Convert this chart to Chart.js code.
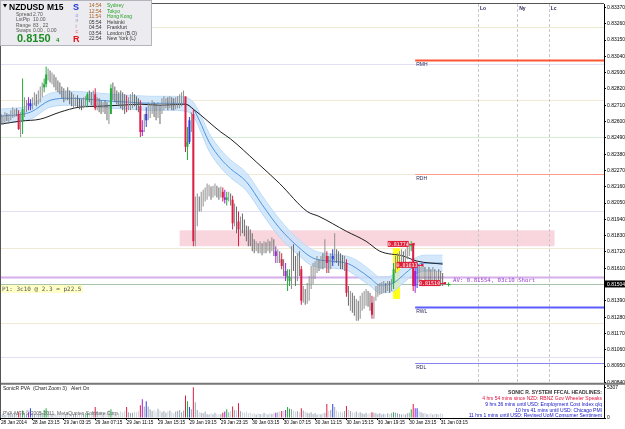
<!DOCTYPE html>
<html>
<head>
<meta charset="utf-8">
<script src="https://cdn.jsdelivr.net/npm/chart.js@4.4.1/dist/chart.umd.min.js"></script>
<style>
html, body { margin: 0; padding: 0; background: #fff; overflow: hidden; }
canvas { display: block; }
</style>
</head>
<body>
<canvas id="nzdChart" width="625" height="429"></canvas>
<script>
// =============== NZDUSD M15, first bar = 28 Jan 19:15
const firstOpen = 0.82630;
const highs = [
0.82650,0.82643,0.82663,0.82656,0.82650,0.82676,0.82697,0.82683,0.82690,0.82676,
0.82663,0.82891,0.82764,0.82743,0.82764,0.82750,0.82764,0.82797,0.82784,0.82810,
0.82837,0.82864,0.82891,0.82971,0.82958,0.82944,0.82931,0.82918,0.82898,0.82877,
0.82864,0.82837,0.82824,0.82810,0.82831,0.82810,0.82797,0.82784,0.82764,0.82777,
0.82757,0.82750,0.82764,0.82770,0.82797,0.82810,0.82797,0.82810,0.82824,0.82764,
0.82757,0.82743,0.82730,0.82743,0.82730,0.82697,0.82851,0.82864,0.82837,0.82810,
0.82797,0.82810,0.82797,0.82784,0.82777,0.82764,0.82784,0.82797,0.82784,0.82770,
0.82757,0.82743,0.82609,0.82650,0.82697,0.82730,0.82717,0.82743,0.82730,0.82717,
0.82730,0.82703,0.82757,0.82770,0.82757,0.82764,0.82770,0.82764,0.82757,0.82764,
0.82770,0.82784,0.82797,0.82810,0.82764,0.82563,0.82630,0.82663,0.82683,0.82094,
0.82114,0.82094,0.82127,0.82140,0.82154,0.82181,0.82174,0.82161,0.82167,0.82181,
0.82167,0.82154,0.82161,0.82154,0.82140,0.82127,0.82127,0.82114,0.82100,0.82047,
0.82027,0.81993,0.81960,0.81980,0.81939,0.81899,0.81893,0.81872,0.81846,0.81805,
0.81792,0.81779,0.81792,0.81779,0.81792,0.81785,0.81805,0.81792,0.81819,0.81805,
0.81759,0.81738,0.81725,0.81712,0.81671,0.81645,0.81604,0.81604,0.81759,0.81772,
0.81692,0.81712,0.81725,0.81625,0.81491,0.81470,0.81511,0.81558,0.81625,0.81645,
0.81658,0.81692,0.81671,0.81692,0.81712,0.81805,0.81725,0.81692,0.81712,0.81738,
0.81846,0.81738,0.81725,0.81712,0.81698,0.81692,0.81671,0.81491,0.81457,0.81444,
0.81424,0.81403,0.81390,0.81424,0.81444,0.81457,0.81470,0.81457,0.81444,0.81424,
0.81417,0.81491,0.81504,0.81511,0.81517,0.81524,0.81511,0.81524,0.81524,0.81537,
0.81645,0.81692,0.81712,0.81725,0.81738,0.81725,0.81738,0.81765,0.81779,0.81792,
0.81772,0.81645,0.81645,0.81625,0.81618,0.81625,0.81618,0.81604,0.81618,0.81604,
0.81618,0.81604,0.81591,0.81604,0.81591,0.81578
];
const lows = [
0.82583,0.82576,0.82596,0.82603,0.82583,0.82609,0.82623,0.82630,0.82636,0.82542,
0.82496,0.82516,0.82630,0.82663,0.82676,0.82676,0.82683,0.82710,0.82703,0.82717,
0.82730,0.82764,0.82797,0.82831,0.82877,0.82864,0.82851,0.82831,0.82810,0.82797,
0.82784,0.82757,0.82730,0.82743,0.82743,0.82717,0.82703,0.82690,0.82703,0.82697,
0.82683,0.82676,0.82690,0.82697,0.82697,0.82730,0.82710,0.82703,0.82676,0.82676,
0.82663,0.82650,0.82663,0.82650,0.82609,0.82583,0.82717,0.82743,0.82730,0.82717,
0.82703,0.82690,0.82676,0.82650,0.82663,0.82676,0.82676,0.82690,0.82703,0.82676,
0.82663,0.82496,0.82502,0.82529,0.82563,0.82609,0.82623,0.82650,0.82630,0.82609,
0.82623,0.82583,0.82650,0.82676,0.82690,0.82676,0.82690,0.82676,0.82676,0.82683,
0.82690,0.82690,0.82703,0.82717,0.82395,0.82341,0.82449,0.82529,0.81759,0.81759,
0.81893,0.81993,0.81993,0.82027,0.82060,0.82073,0.82094,0.82073,0.82087,0.82100,
0.82087,0.82073,0.82087,0.82060,0.82047,0.82033,0.82060,0.82033,0.81872,0.81893,
0.81846,0.81759,0.81826,0.81846,0.81826,0.81792,0.81759,0.81759,0.81725,0.81712,
0.81725,0.81712,0.81712,0.81698,0.81712,0.81712,0.81725,0.81712,0.81725,0.81692,
0.81645,0.81645,0.81645,0.81604,0.81558,0.81524,0.81457,0.81491,0.81470,0.81591,
0.81491,0.81524,0.81558,0.81363,0.81377,0.81363,0.81370,0.81390,0.81470,0.81504,
0.81537,0.81578,0.81591,0.81604,0.81604,0.81611,0.81578,0.81578,0.81604,0.81625,
0.81645,0.81645,0.81625,0.81604,0.81604,0.81591,0.81417,0.81357,0.81323,0.81310,
0.81290,0.81256,0.81256,0.81269,0.81323,0.81336,0.81357,0.81350,0.81323,0.81269,
0.81269,0.81390,0.81417,0.81430,0.81437,0.81444,0.81444,0.81457,0.81444,0.81457,
0.81470,0.81578,0.81604,0.81618,0.81645,0.81631,0.81645,0.81671,0.81692,0.81725,
0.81457,0.81444,0.81477,0.81511,0.81524,0.81537,0.81524,0.81511,0.81524,0.81511,
0.81524,0.81511,0.81497,0.81511,0.81491,0.81491
];
const closes = [
0.82609,0.82623,0.82636,0.82616,0.82630,0.82650,0.82663,0.82663,0.82650,0.82549,
0.82609,0.82683,0.82697,0.82710,0.82723,0.82703,0.82730,0.82757,0.82730,0.82764,
0.82797,0.82831,0.82851,0.82918,0.82931,0.82898,0.82904,0.82864,0.82851,0.82831,
0.82824,0.82797,0.82777,0.82784,0.82764,0.82743,0.82730,0.82730,0.82730,0.82723,
0.82710,0.82703,0.82730,0.82743,0.82784,0.82764,0.82730,0.82784,0.82690,0.82717,
0.82703,0.82676,0.82703,0.82690,0.82650,0.82650,0.82824,0.82797,0.82764,0.82757,
0.82750,0.82730,0.82703,0.82676,0.82676,0.82730,0.82743,0.82757,0.82730,0.82717,
0.82703,0.82529,0.82542,0.82609,0.82650,0.82676,0.82690,0.82703,0.82663,0.82650,
0.82676,0.82663,0.82730,0.82730,0.82730,0.82717,0.82743,0.82730,0.82717,0.82723,
0.82730,0.82743,0.82757,0.82770,0.82429,0.82462,0.82609,0.82650,0.81792,0.82060,
0.82060,0.82027,0.82073,0.82094,0.82114,0.82127,0.82140,0.82127,0.82140,0.82154,
0.82127,0.82114,0.82127,0.82087,0.82073,0.82087,0.82087,0.82073,0.81913,0.81993,
0.81926,0.81872,0.81913,0.81893,0.81872,0.81846,0.81826,0.81805,0.81759,0.81738,
0.81759,0.81738,0.81752,0.81738,0.81759,0.81752,0.81765,0.81752,0.81765,0.81725,
0.81692,0.81692,0.81671,0.81625,0.81591,0.81558,0.81551,0.81524,0.81685,0.81671,
0.81625,0.81645,0.81604,0.81390,0.81424,0.81403,0.81457,0.81491,0.81578,0.81591,
0.81625,0.81645,0.81631,0.81658,0.81645,0.81692,0.81645,0.81604,0.81671,0.81692,
0.81725,0.81685,0.81671,0.81658,0.81645,0.81645,0.81444,0.81390,0.81390,0.81357,
0.81323,0.81336,0.81310,0.81357,0.81390,0.81403,0.81424,0.81390,0.81377,0.81296,
0.81390,0.81457,0.81470,0.81484,0.81484,0.81491,0.81484,0.81497,0.81491,0.81511,
0.81604,0.81658,0.81671,0.81692,0.81712,0.81692,0.81725,0.81738,0.81759,0.81772,
0.81491,0.81591,0.81591,0.81578,0.81578,0.81591,0.81564,0.81578,0.81564,0.81551,
0.81578,0.81537,0.81551,0.81537,0.81524,0.81511
];
const volumes = [
600,750,500,650,800,700,550,900,650,1000,
800,1300,900,700,1000,1700,800,650,900,750,
1000,850,1400,1700,1100,900,700,800,650,900,
750,600,850,700,950,800,650,700,900,600,
750,800,650,850,900,700,850,1000,1900,1200,
900,1100,800,950,1000,1300,1500,1100,900,1000,
800,1150,950,1200,1900,1000,850,900,1100,1000,
1200,2200,3250,2000,2900,2000,1500,1200,1400,1100,
1600,1300,1000,1200,900,1100,1300,1000,800,1100,
1200,1400,1000,1300,3900,2900,1900,1500,5307,2700,
1400,1000,900,800,1100,700,600,800,650,900,
750,600,700,900,1100,1500,1000,1200,2000,1400,
1300,2550,1200,1000,900,1100,800,950,700,850,
600,800,700,650,900,750,600,800,700,900,
900,1000,1100,1200,1300,1400,1900,1600,1500,1300,
1100,1200,1000,1700,1300,1100,900,800,1000,700,
850,600,750,650,800,900,2400,1200,1400,2400,
1900,1300,1000,1100,900,1200,2050,1400,1200,1000,
900,1100,850,1000,800,700,900,750,850,1000,
900,800,700,850,600,750,650,800,700,850,
1000,900,800,700,650,750,600,800,900,1500,
2400,1700,1700,1200,1000,800,900,700,650,800,
600,750,700,650,800,700
];

// PVA bars: r = climax bear, g = climax bull, b = rising bull, m = rising bear
const pvaIndex = [9,11,14,15,22,23,44,48,56,64,71,72,74,94,95,96,98,113,114,115,118,121,140,143,145,146,147,153,166,169,176,189,200,209,210,211,212];
const pvaKind  = ['r','g','m','b','g','g','g','r','g','r','r','m','b','r','g','b','r','r','m','g','r','r','m','r','m','g','g','r','r','b','r','r','g','g','r','m','b'];

// long moving average (sparse points, bar index / price)
const maBars   = [0,10,20,30,40,50,61,71,81,94,98,112,117,130,142,156,162,176,186,193,205,212,225];
const maValues = [0.82583,0.82603,0.82616,0.82663,0.82697,0.82703,0.82710,0.82717,0.82710,0.82717,0.82683,0.82529,0.82482,0.82328,0.82181,0.81993,0.81960,0.81859,0.81792,0.81725,0.81692,0.81658,0.81638];

// SonicR dragon band
const bandBars  = [0,15,25,35,45,56,66,76,86,94,98,101,106,112,117,125,133,142,151,159,168,176,181,188,193,200,205,210,216,225];
const bandMid   = [0.82636,0.82663,0.82743,0.82757,0.82750,0.82737,0.82730,0.82723,0.82723,0.82717,0.82683,0.82609,0.82462,0.82348,0.82281,0.82194,0.82040,0.81879,0.81759,0.81678,0.81658,0.81645,0.81611,0.81544,0.81497,0.81511,0.81564,0.81618,0.81645,0.81645];
const bandHigh  = [0.82683,0.82710,0.82790,0.82804,0.82797,0.82784,0.82777,0.82770,0.82770,0.82764,0.82730,0.82663,0.82522,0.82408,0.82341,0.82254,0.82100,0.81939,0.81812,0.81732,0.81705,0.81692,0.81665,0.81598,0.81551,0.81564,0.81618,0.81671,0.81698,0.81698];
const bandLow   = [0.82589,0.82616,0.82697,0.82710,0.82703,0.82690,0.82683,0.82676,0.82676,0.82670,0.82636,0.82556,0.82402,0.82288,0.82221,0.82134,0.81980,0.81819,0.81705,0.81625,0.81611,0.81598,0.81558,0.81491,0.81444,0.81457,0.81511,0.81564,0.81591,0.81591];

// axis labels
const timeLabels = ['28 Jan 2014','28 Jan 23:15','29 Jan 03:15','29 Jan 07:15','29 Jan 11:15','29 Jan 15:15','29 Jan 19:15','29 Jan 23:15','30 Jan 03:15','30 Jan 07:15','30 Jan 11:15','30 Jan 15:15','30 Jan 19:15','30 Jan 23:15','31 Jan 03:15'];
const priceTicks = [0.80840,0.80950,0.81060,0.81170,0.81280,0.81390,0.81500,0.81610,0.81720,0.81830,0.81940,0.82050,0.82160,0.82270,0.82380,0.82490,0.82600,0.82710,0.82820,0.82930,0.83040,0.83150,0.83260,0.83370];
const volumeTicks = [0, 5307];

// levels and objects on the chart
const pivotLevels = [0.83239,0.82991,0.82743,0.82496,0.82248,0.81993,0.81745,0.81243,0.81008];
const rangeNames  = ['RMH','RDH','RWL','RDL'];
const rangePrices = [0.83018,0.82248,0.81350,0.80968];
const rangeFromBar = 211;
const zonePrices = [0.81866, 0.81759];
const zoneBars = [91, 282];
const signalBars = [199.7, 203.3];
const signalPrices = [0.81745, 0.81403];
const sessionNames = ['Lo','Ny','Lc'];
const sessionBars = [243, 263, 279];
const tradePrices = [0.81774, 0.81633, 0.81510];
const tradeBars = [210, 214.5, 226];
const tradeAverage = 0.81554;
const lastPrice = 0.81504;

const clockTimes = ['14:54','12:54','11:54','05:54','04:54','03:54','22:54'];
const clockCities = ['Sydney','Tokyo','Hong Kong','Helsinki','Frankfurt','London (B,O)','New York (L)'];
const headlines = [
    '4 hrs 54 mins since NZD: RBNZ Gov Wheeler Speaks',
    '9 hrs 36 mins until USD: Employment Cost Index q/q',
    '10 hrs 41 mins until USD: Chicago PMI',
    '11 hrs 1 mins until USD: Revised UoM Consumer Sentiment'
];

// =============== colours
const pvaColors = { r: '#dc1e46', g: '#1fae3a', b: '#2b3fe0', m: '#a21fd6' };
const kindAt = highs.map(() => null);
pvaIndex.forEach((idx, k) => { kindAt[idx] = pvaKind[k]; });
const opens = closes.map((c, i) => i === 0 ? firstOpen : closes[i - 1]);
const candleColor = i => kindAt[i] ? pvaColors[kindAt[i]] : (closes[i] >= opens[i] ? '#8e8e8e' : '#686868');
const volumeColor = i => kindAt[i] ? pvaColors[kindAt[i]] : (closes[i] >= opens[i] ? '#9aa6b6' : '#cdd2d8');

const SANS = '"Liberation Sans", Arial, sans-serif';
const MONO = '"DejaVu Sans Mono", monospace';

// =============== overlay drawing (objects, texts, panels)
const overlay = {
    id: 'overlay',
    beforeDatasetsDraw(chart) {
        const { ctx, chartArea: a, scales: { x, y } } = chart;
        const px = v => x.getPixelForValue(v);
        const py = v => Math.round(y.getPixelForValue(v)) + 0.5;
        ctx.save();
        ctx.beginPath();
        ctx.rect(a.left, a.top, a.right - a.left, y.bottom - a.top);
        ctx.clip();

        // pivot levels
        const levelColors = ['#ecebd2', '#e2e0f4', '#efe9d6', '#d6edd6', '#efe9d6', '#e2e0f4', '#efe9d6', '#efe9d6', '#e2e0f4'];
        ctx.lineWidth = 1;
        pivotLevels.forEach((p, k) => {
            ctx.strokeStyle = levelColors[k];
            ctx.beginPath(); ctx.moveTo(a.left, py(p)); ctx.lineTo(a.right, py(p)); ctx.stroke();
        });

        // pink zone
        ctx.fillStyle = '#f9d5de';
        const zt = y.getPixelForValue(zonePrices[0]), zb = y.getPixelForValue(zonePrices[1]);
        ctx.fillRect(px(zoneBars[0]), zt, px(zoneBars[1]) - px(zoneBars[0]), zb - zt);

        // session lines
        ctx.strokeStyle = '#c8c8c8';
        ctx.setLineDash([3, 2]);
        sessionBars.forEach(b => {
            const xx = Math.round(px(b)) + 0.5;
            ctx.beginPath(); ctx.moveTo(xx, a.top); ctx.lineTo(xx, y.bottom); ctx.stroke();
        });
        ctx.setLineDash([]);

        // range levels
        const rangeStyles = [['#ff5533', 2], ['#ff9a88', 1], ['#5c5cff', 2], ['#8484f2', 1]];
        rangePrices.forEach((p, k) => {
            ctx.strokeStyle = rangeStyles[k][0];
            ctx.lineWidth = rangeStyles[k][1];
            ctx.beginPath(); ctx.moveTo(px(rangeFromBar), py(p)); ctx.lineTo(a.right, py(p)); ctx.stroke();
        });

        // trade average line and last price line
        ctx.strokeStyle = '#d6aeea'; ctx.lineWidth = 2;
        ctx.beginPath(); ctx.moveTo(a.left, py(tradeAverage)); ctx.lineTo(a.right, py(tradeAverage)); ctx.stroke();
        ctx.strokeStyle = '#a6c2a6'; ctx.lineWidth = 1;
        ctx.beginPath(); ctx.moveTo(a.left, py(lastPrice)); ctx.lineTo(a.right, py(lastPrice)); ctx.stroke();

        // signal highlight
        ctx.fillStyle = '#ffff1a';
        const st = y.getPixelForValue(signalPrices[0]), sb = y.getPixelForValue(signalPrices[1]);
        ctx.fillRect(px(signalBars[0]), st, px(signalBars[1]) - px(signalBars[0]), sb - st);
        ctx.restore();
    },
    afterDatasetsDraw(chart) {
        const { ctx, chartArea: a, scales: { x, y, yv } } = chart;
        const px = v => x.getPixelForValue(v);
        const py = v => y.getPixelForValue(v);
        ctx.save();
        ctx.textBaseline = 'alphabetic';

        // trade labels
        ctx.font = `5px ${MONO}`;
        tradePrices.forEach((p, k) => {
            const xr = px(tradeBars[k]) - 4.5, yy = py(p);
            ctx.strokeStyle = '#e0203a'; ctx.lineWidth = 1;
            ctx.beginPath(); ctx.moveTo(xr, Math.round(yy) + 0.5); ctx.lineTo(px(tradeBars[k]), Math.round(yy) + 0.5); ctx.stroke();
            ctx.fillStyle = '#e0203a';
            ctx.fillRect(xr - 21, yy - 3, 21, 6);
            ctx.fillRect(px(tradeBars[k]) - 1, yy - 1, 2.5, 2.5);
            ctx.fillStyle = '#fff';
            ctx.textAlign = 'center';
            ctx.fillText(p.toFixed(5), xr - 10.5, yy + 2);
        });
        const lastX = px(tradeBars[2]);
        ctx.strokeStyle = '#1fae3a';
        ctx.beginPath();
        ctx.moveTo(lastX + 2, py(lastPrice) + 0.5); ctx.lineTo(lastX + 6, py(lastPrice) + 0.5);
        ctx.moveTo(lastX + 4, py(lastPrice) - 1.5); ctx.lineTo(lastX + 4, py(lastPrice) + 2.5);
        ctx.stroke();
        ctx.textAlign = 'left';
        ctx.fillStyle = '#9a3fd0';
        ctx.font = `5.7px ${MONO}`;
        ctx.fillText('AV: ' + tradeAverage.toFixed(5) + ', 03c10 Short', lastX + 8.5, py(tradeAverage) + 5);

        // P1 label
        ctx.fillStyle = '#ffffc6';
        ctx.fillRect(a.left, py(lastPrice) + 1, 83, 8);
        ctx.fillStyle = '#555';
        ctx.font = `6px ${MONO}`;
        ctx.fillText('P1: 3c10 @ 2.3 = p22.5', a.left + 2, py(lastPrice) + 7);

        // session names and range names
        ctx.font = `bold 5px ${SANS}`;
        ctx.fillStyle = '#2a2a5a';
        sessionNames.forEach((n, k) => ctx.fillText(n, px(sessionBars[k]) + 2, a.top + 6));
        ctx.font = `5px ${SANS}`;
        rangeNames.forEach((n, k) => ctx.fillText(n, px(rangeFromBar) + 1, py(rangePrices[k]) + 6));

        // panel borders and separator
        ctx.fillStyle = '#777';
        ctx.fillRect(0, y.bottom - 0.5, chart.width, 2);
        ctx.strokeStyle = '#555'; ctx.lineWidth = 1;
        ctx.beginPath();
        ctx.moveTo(0.5, a.top); ctx.lineTo(0.5, a.bottom);
        ctx.moveTo(0, a.top - 0.5); ctx.lineTo(a.right, a.top - 0.5);
        ctx.stroke();

        // info panel
        ctx.fillStyle = '#ececf0';
        ctx.fillRect(0, 0, 152, 46);
        ctx.strokeStyle = '#b4b4bc';
        ctx.strokeRect(0.5, 0.5, 151, 45);
        ctx.fillStyle = '#000';
        ctx.beginPath(); ctx.moveTo(3, 4); ctx.lineTo(7, 4); ctx.lineTo(5, 7.5); ctx.closePath(); ctx.fill();
        ctx.font = `bold 8.5px ${SANS}`;
        ctx.fillText('NZDUSD', 9, 10);
        ctx.fillText('M15', 47, 10);
        ctx.font = `5px ${SANS}`;
        ctx.fillStyle = '#555';
        [['Spread', '2.70'], ['LstPip', '10.00'], ['Range', '83 , 22'], ['Swaps', '0.00 , 0.00']].forEach((r, k) => {
            ctx.fillText(r[0], 16, 16 + k * 5.3);
            ctx.fillText(r[1], 33, 16 + k * 5.3);
        });
        ctx.fillStyle = '#1c8c22';
        ctx.font = `bold 11px ${SANS}`;
        ctx.fillText('0.8150', 17, 42);
        ctx.font = `bold 6px ${SANS}`;
        ctx.fillText('4', 56, 42);
        ctx.font = `bold 9px ${SANS}`;
        ctx.fillStyle = '#1a34d6';
        ctx.fillText('S', 73, 10);
        ctx.fillStyle = '#e0101e';
        ctx.fillText('R', 73, 42);
        ctx.font = `5px ${SANS}`;
        [['o', '#8894e4'], ['n', '#a486c8'], ['i', '#d276a6'], ['c', '#e06072']].forEach((c, k) => {
            ctx.fillStyle = c[1];
            ctx.fillText(c[0], 75.5, 17 + k * 5.3);
        });
        clockTimes.forEach((t, k) => {
            ctx.fillStyle = k < 3 ? '#a85c1c' : '#333';
            ctx.fillText(t, 89, 7 + k * 5.5);
            ctx.fillStyle = k < 3 ? '#1e9e1e' : '#333';
            ctx.fillText(clockCities[k], 107, 7 + k * 5.5);
        });

        // volume panel texts
        ctx.fillStyle = '#222';
        ctx.font = `5px ${SANS}`;
        ctx.fillText('SonicR PVA  (Chart Zoom 3)   Alert On', 3, yv.top + 7);
        ctx.fillStyle = '#666';
        ctx.fillText('PVA-MT4 \u00a9 2005-2011, MetaQuotes Software Corp.', 3, yv.bottom - 3);
        ctx.textAlign = 'right';
        ctx.font = `bold 5px ${SANS}`;
        ctx.fillStyle = '#333';
        ctx.fillText('SONIC R. SYSTEM FFCAL HEADLINES:', a.right - 2, yv.top + 11);
        ctx.font = `5px ${SANS}`;
        headlines.forEach((h, k) => {
            ctx.fillStyle = k === 0 ? '#e0103a' : '#1414c4';
            ctx.fillText(h, a.right - 2, yv.top + 17 + k * 5.7);
        });
        ctx.restore();
    },
    afterDraw(chart) {
        const { ctx, chartArea: a, scales: { y } } = chart;
        const yy = y.getPixelForValue(lastPrice);
        ctx.save();
        ctx.fillStyle = '#000';
        ctx.fillRect(a.right + 1, yy - 3.5, chart.width - a.right - 1, 7);
        ctx.fillStyle = '#fff';
        ctx.font = `5px ${SANS}`;
        ctx.textAlign = 'left';
        ctx.fillText(lastPrice.toFixed(5), a.right + 3, yy + 2);
        ctx.restore();
    }
};

// =============== chart
const tickFont = { family: 'Liberation Sans', size: 5 };
const timeFont = { family: 'Liberation Sans', size: 4.7 };

new Chart(document.getElementById('nzdChart'), {
    type: 'bar',
    data: {
        datasets: [
            {
                // PVA coloured bodies only
                label: 'body',
                data: closes.map((c, i) => ({ x: i, y: kindAt[i] ? [opens[i], c] : null })),
                backgroundColor: closes.map((c, i) => candleColor(i)),
                barThickness: 2, inflateAmount: 0, grouped: false, yAxisID: 'y', order: 1
            },
            {
                label: 'range',
                data: highs.map((h, i) => ({ x: i, y: [lows[i], h] })),
                backgroundColor: highs.map((h, i) => candleColor(i)),
                barThickness: 1, inflateAmount: 0, grouped: false, yAxisID: 'y', order: 2
            },
            {
                label: 'volume',
                data: volumes.map((v, i) => ({ x: i, y: v })),
                backgroundColor: volumes.map((v, i) => volumeColor(i)),
                barThickness: 1, inflateAmount: 0, grouped: false, yAxisID: 'yv', order: 3
            },
            {
                type: 'line', label: 'ma',
                data: maBars.map((b, k) => ({ x: b, y: maValues[k] })),
                borderColor: '#1e1e1e', borderWidth: 1, pointRadius: 0,
                cubicInterpolationMode: 'monotone', yAxisID: 'y', order: 4
            },
            {
                type: 'line', label: 'band mid',
                data: bandBars.map((b, k) => ({ x: b, y: bandMid[k] })),
                borderColor: '#4f95e0', borderWidth: 1, pointRadius: 0,
                cubicInterpolationMode: 'monotone', yAxisID: 'y', order: 5
            },
            {
                type: 'line', label: 'band high',
                data: bandBars.map((b, k) => ({ x: b, y: bandHigh[k] })),
                borderColor: '#b8d7f5', borderWidth: 1, pointRadius: 0, fill: false,
                cubicInterpolationMode: 'monotone', yAxisID: 'y', order: 7
            },
            {
                type: 'line', label: 'band low',
                data: bandBars.map((b, k) => ({ x: b, y: bandLow[k] })),
                borderColor: '#b8d7f5', borderWidth: 1, pointRadius: 0,
                fill: '-1', backgroundColor: 'rgba(200,226,250,0.8)',
                cubicInterpolationMode: 'monotone', yAxisID: 'y', order: 6
            }
        ]
    },
    options: {
        responsive: false,
        animation: false,
        devicePixelRatio: 1,
        layout: { padding: { left: 0, top: 1, right: 0, bottom: 0 } },
        plugins: { legend: { display: false }, tooltip: { enabled: false } },
        scales: {
            x: {
                type: 'linear', min: -0.5, max: 307.2, offset: false,
                grid: { display: true, drawOnChartArea: false, offset: false, tickLength: 2, color: '#000' },
                border: { color: '#000' },
                ticks: {
                    autoSkip: false, maxRotation: 0, align: 'start', padding: 0,
                    color: '#000', font: timeFont,
                    callback: (v, k) => timeLabels[k]
                },
                afterBuildTicks: s => { s.ticks = timeLabels.map((t, k) => ({ value: k * 16 })); },
                afterFit: s => { s.height = 11; }
            },
            y: {
                position: 'right', stack: 'panes', stackWeight: 382,
                min: 0.80834, max: 0.83393,
                grid: { drawOnChartArea: false, tickLength: 2, color: '#000' },
                border: { color: '#000' },
                ticks: { autoSkip: false, padding: 1, color: '#000', font: tickFont, callback: v => v.toFixed(5) },
                afterBuildTicks: s => { s.ticks = priceTicks.map(v => ({ value: v })); },
                afterFit: s => { s.width = 21; }
            },
            yv: {
                position: 'right', stack: 'panes', stackWeight: 35,
                min: 0, max: 5992,
                grid: { drawOnChartArea: false, tickLength: 2, color: '#000' },
                border: { color: '#000' },
                ticks: { autoSkip: false, padding: 1, color: '#000', font: tickFont, callback: v => v.toFixed(0) },
                afterBuildTicks: s => { s.ticks = volumeTicks.map(v => ({ value: v })); },
                afterFit: s => { s.width = 21; }
            }
        }
    },
    plugins: [overlay]
});
</script>
</body>
</html>
